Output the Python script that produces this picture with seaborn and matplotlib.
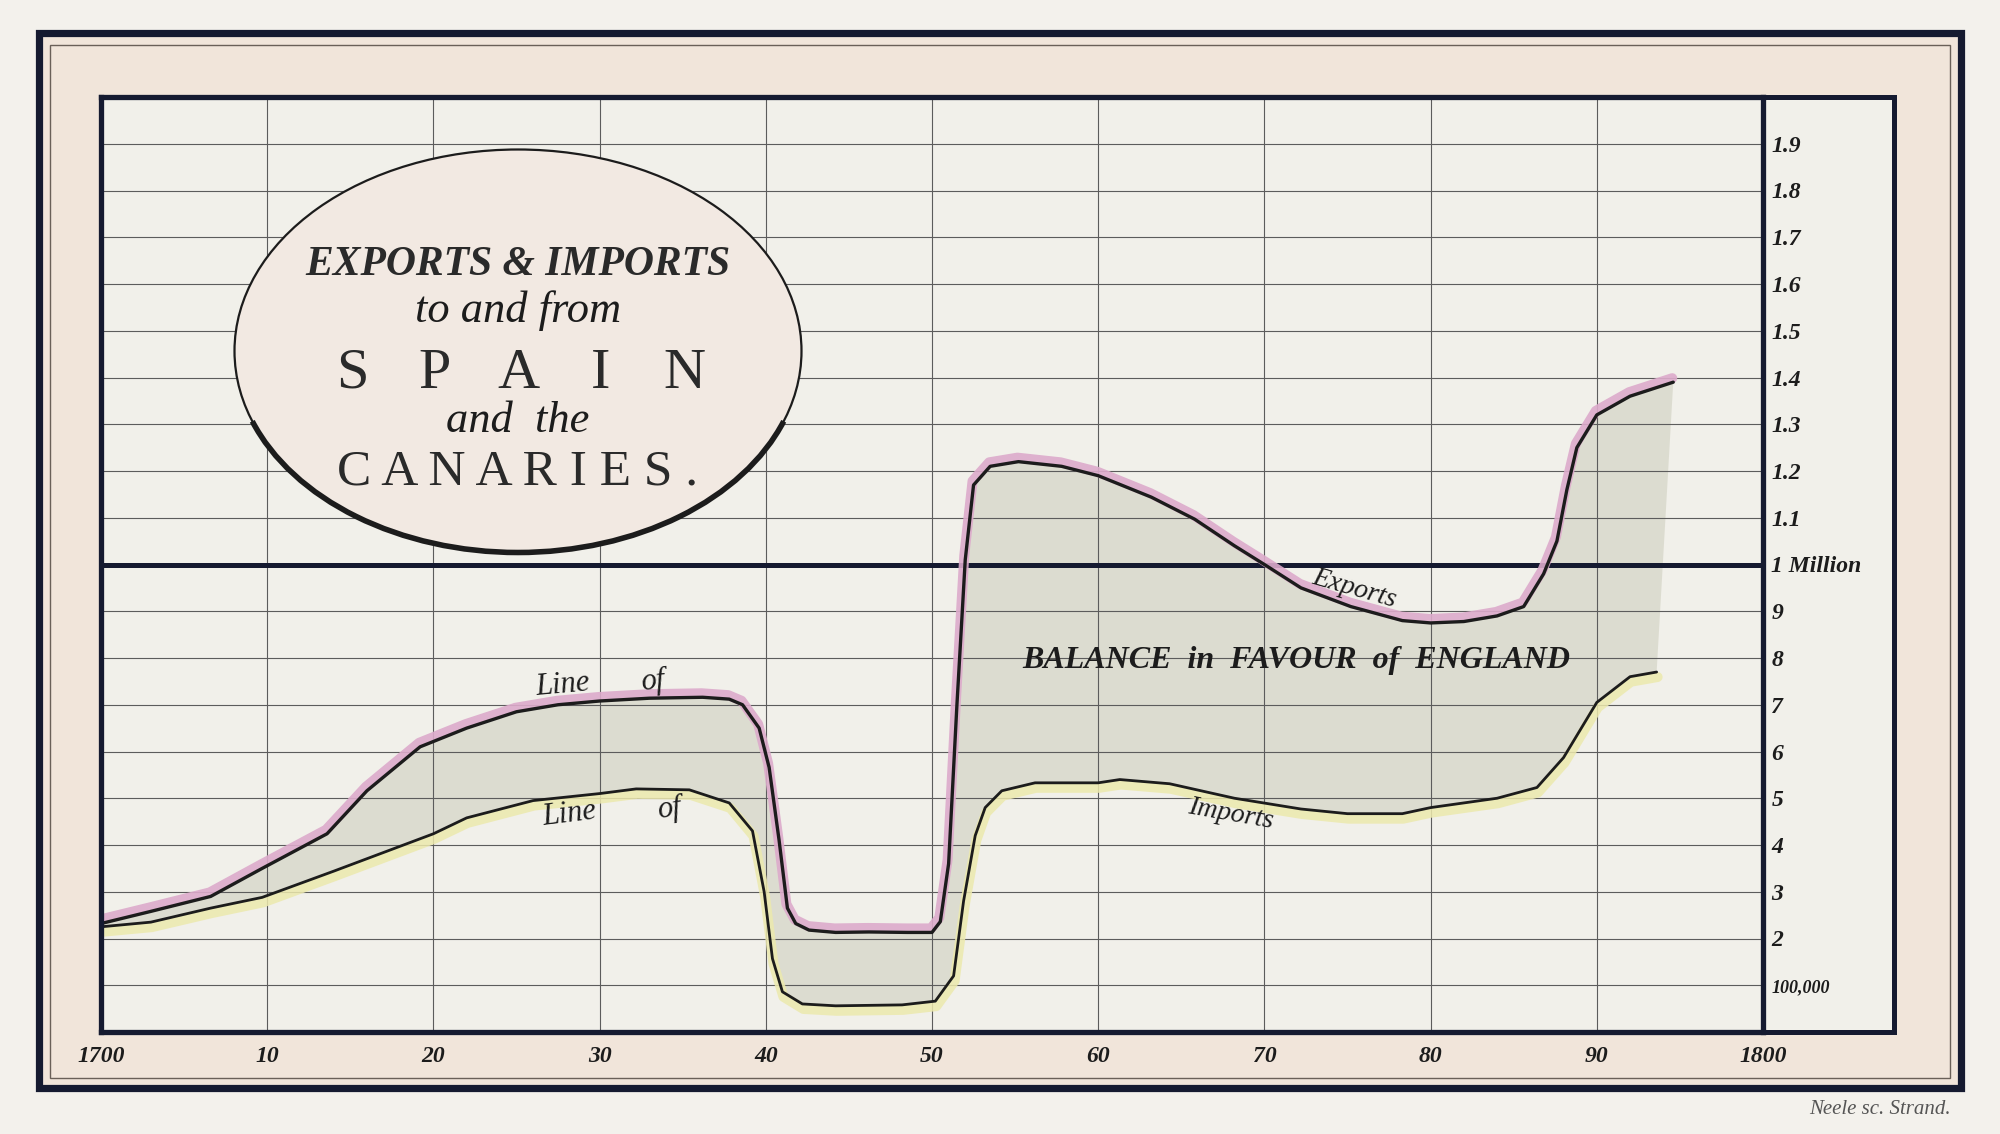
import numpy as np
import matplotlib
matplotlib.use('Agg')
import matplotlib.pyplot as plt
import seaborn as sns
from matplotlib.patches import Rectangle, Ellipse, Arc
from matplotlib.transforms import offset_copy

# Playfair - exports & imports to and from Spain and the Canaries (millions of pounds)
export_years = [1700, 1703, 1706.6, 1709.7, 1713.6, 1716, 1719.2, 1722, 1725, 1727.5,
                1730, 1733, 1736.2, 1737.8, 1738.6, 1739.6, 1740.2, 1740.8, 1741.3, 1741.8,
                1742.6, 1744.2, 1746.2, 1748.5, 1750, 1750.5, 1751, 1751.5, 1752, 1752.5,
                1753.5, 1755.2, 1757.8, 1760, 1763.2, 1765.8, 1768.2, 1770, 1772.2, 1775.2,
                1778.3, 1780, 1782, 1784, 1785.6, 1786.8, 1787.6, 1788.2, 1788.8, 1790,
                1792, 1794.6]
export_values = [0.232, 0.258, 0.29, 0.35, 0.424, 0.516, 0.61, 0.65, 0.685, 0.70,
                 0.708, 0.714, 0.716, 0.712, 0.70, 0.65, 0.566, 0.41, 0.265, 0.232,
                 0.218, 0.213, 0.214, 0.213, 0.213, 0.236, 0.36, 0.70, 1.01, 1.17,
                 1.21, 1.22, 1.21, 1.19, 1.144, 1.097, 1.04, 1.0, 0.95, 0.91,
                 0.88, 0.875, 0.878, 0.89, 0.91, 0.98, 1.05, 1.16, 1.25, 1.32,
                 1.36, 1.39]

import_years = [1700, 1703, 1706.6, 1709.7, 1714, 1720, 1722, 1726, 1730, 1732.2,
                1735.4, 1737.8, 1739.2, 1739.9, 1740.4, 1741, 1742.2, 1744.2, 1748.2, 1750.2,
                1751.3, 1751.9, 1752.6, 1753.2, 1754.2, 1756.2, 1760, 1761.3, 1764.3, 1768.2,
                1772.2, 1775, 1778.3, 1780, 1784, 1786.4, 1788, 1790, 1792, 1793.6]
import_values = [0.225, 0.235, 0.265, 0.288, 0.344, 0.424, 0.458, 0.495, 0.51, 0.52,
                 0.518, 0.49, 0.43, 0.30, 0.157, 0.086, 0.06, 0.056, 0.058, 0.066,
                 0.12, 0.28, 0.42, 0.48, 0.516, 0.533, 0.533, 0.54, 0.531, 0.50,
                 0.477, 0.467, 0.467, 0.48, 0.50, 0.523, 0.587, 0.705, 0.76, 0.77]

year_ticks = [1700, 1710, 1720, 1730, 1740, 1750, 1760, 1770, 1780, 1790, 1800]
year_labels = ['1700', '10', '20', '30', '40', '50', '60', '70', '80', '90', '1800']
value_ticks = [0.1, 0.2, 0.3, 0.4, 0.5, 0.6, 0.7, 0.8, 0.9, 1.0,
               1.1, 1.2, 1.3, 1.4, 1.5, 1.6, 1.7, 1.8, 1.9]
value_labels = ['100,000', '2', '3', '4', '5', '6', '7', '8', '9', '1 Million',
                '1.1', '1.2', '1.3', '1.4', '1.5', '1.6', '1.7', '1.8', '1.9']

# colours
paper = '#f3f1ec'
band = '#f1e5da'
plot_bg = '#f1f0ea'
navy = '#151a30'
ink = '#1c1c1c'
pink = '#dcaacb'
yellow = '#ece9ad'
balance = '#d6d6c8'

sns.set_style('white')
plt.rcParams['font.family'] = ['Liberation Serif', 'DejaVu Serif']

W, H = 2000, 1134
fig = plt.figure(figsize=(10, 5.67), dpi=200)
fig.patch.set_facecolor(paper)


def fx(x):
    return x / W


def fy(y):
    return 1 - y / H


# frame: thick outer rule, thin inner rule, tinted band
fig.add_artist(Rectangle((fx(39), fy(1088)), fx(1961) - fx(39), fy(33) - fy(1088),
                         transform=fig.transFigure, facecolor=band, edgecolor=navy,
                         lw=2.6, zorder=-10))
fig.add_artist(Rectangle((fx(50), fy(1078)), fx(1950) - fx(50), fy(45) - fy(1078),
                         transform=fig.transFigure, fill=False, edgecolor='#6a6058',
                         lw=0.5, zorder=-9))
# panel holding the value labels
fig.add_artist(Rectangle((fx(1763), fy(1032)), fx(1894) - fx(1763), fy(97) - fy(1032),
                         transform=fig.transFigure, facecolor=plot_bg, edgecolor=navy,
                         lw=1.8, zorder=-8))

ax = fig.add_axes([fx(101), fy(1032), fx(1763) - fx(101), fy(97) - fy(1032)])
ax.set_facecolor(plot_bg)
ax.set_xlim(1700, 1800)
ax.set_ylim(0, 2.0)

# balance area between the two lines
ax.fill(np.r_[export_years, import_years[::-1]],
        np.r_[export_values, import_values[::-1]],
        color=balance, alpha=0.75, lw=0, zorder=1)

# hand-coloured washes beside each line
sns.lineplot(x=export_years, y=export_values, ax=ax, color=pink, lw=3.6, alpha=0.9,
             sort=False, estimator=None, zorder=3,
             solid_capstyle='round', solid_joinstyle='round')
ax.lines[-1].set_transform(offset_copy(ax.transData, fig=fig, x=-1, y=4, units='dots'))
sns.lineplot(x=import_years, y=import_values, ax=ax, color=yellow, lw=3.6, alpha=0.85,
             sort=False, estimator=None, zorder=3,
             solid_capstyle='round', solid_joinstyle='round')
ax.lines[-1].set_transform(offset_copy(ax.transData, fig=fig, x=1, y=-5, units='dots'))

sns.lineplot(x=export_years, y=export_values, ax=ax, color=ink, lw=1.2,
             sort=False, estimator=None, zorder=4, solid_joinstyle='round')
sns.lineplot(x=import_years, y=import_values, ax=ax, color=ink, lw=1.0,
             sort=False, estimator=None, zorder=4, solid_joinstyle='round')

ax.axhline(1.0, color=navy, lw=1.8, zorder=2.8)

# grid & ticks
ax.set_axisbelow(False)
ax.set_xticks(year_ticks, year_labels)
ax.set_yticks(value_ticks, value_labels)
ax.grid(True, color='#5c5c5c', lw=0.4, zorder=2.5)
ax.yaxis.tick_right()
ax.tick_params(axis='both', length=0)
ax.tick_params(axis='x', pad=5, labelsize=8.5)
ax.tick_params(axis='y', pad=3, labelsize=8.5)
for lab in ax.get_xticklabels() + ax.get_yticklabels():
    lab.set_fontstyle('italic')
    lab.set_fontweight('bold')
    lab.set_color(ink)
ax.get_yticklabels()[0].set_fontsize(6.5)
for side in ['left', 'right', 'top', 'bottom']:
    ax.spines[side].set_visible(True)
    ax.spines[side].set_color(navy)
    ax.spines[side].set_linewidth(1.9)
    ax.spines[side].set_zorder(5)

# labels on the chart
ax.text(1727.8, 0.742, 'Line', fontsize=11, style='italic', rotation=5, ha='center', va='center', color=ink, zorder=6)
ax.text(1733.2, 0.749, 'of', fontsize=11, style='italic', rotation=5, ha='center', va='center', color=ink, zorder=6)
ax.text(1728.2, 0.466, 'Line', fontsize=11, style='italic', rotation=7, ha='center', va='center', color=ink, zorder=6)
ax.text(1734.2, 0.477, 'of', fontsize=11, style='italic', rotation=7, ha='center', va='center', color=ink, zorder=6)
ax.text(1775.4, 0.948, 'Exports', fontsize=10, style='italic', rotation=-16, ha='center', va='center', color=ink, zorder=6)
ax.text(1768.0, 0.466, 'Imports', fontsize=10, style='italic', rotation=-10, ha='center', va='center', color=ink, zorder=6)
ax.text(1771.9, 0.794, 'BALANCE  in  FAVOUR  of  ENGLAND', fontsize=11.5, style='italic',
        weight='bold', ha='center', va='center', color=ink, zorder=6)

# title cartouche
cx, cy, ew, eh = 518, 351, 567, 403
ax.add_patch(Ellipse((fx(cx), fy(cy)), ew / W, eh / H, transform=fig.transFigure,
                     facecolor='#f2e9e2', edgecolor=ink, lw=0.8, zorder=7))
ax.add_patch(Arc((fx(cx), fy(cy)), ew / W, eh / H, transform=fig.transFigure,
                 theta1=205, theta2=335, color=ink, lw=2.0, zorder=7))

fig.text(fx(cx), fy(265), 'EXPORTS & IMPORTS', fontsize=15, style='italic', weight='bold',
         ha='center', va='center', color='#2a2a2a', zorder=8)
fig.text(fx(cx), fy(311), 'to and from', fontsize=16, style='italic',
         ha='center', va='center', color=ink, zorder=8)
for i, letter in enumerate('SPAIN'):
    fig.text(fx(cx + (i - 2) * 83), fy(374), letter, fontsize=21,
             ha='center', va='center', color='#2a2a2a', zorder=8)
fig.text(fx(cx), fy(421), 'and  the', fontsize=16, style='italic',
         ha='center', va='center', color=ink, zorder=8)
fig.text(fx(cx), fy(472), 'C A N A R I E S .', fontsize=18.5,
         ha='center', va='center', color='#2a2a2a', zorder=8)

# engraver's credit
fig.text(fx(1880), fy(1110), 'Neele sc. Strand.', fontsize=7.5, style='italic',
         ha='center', va='center', color='#555555')

fig.savefig('out.png', dpi=200, facecolor=fig.get_facecolor())
